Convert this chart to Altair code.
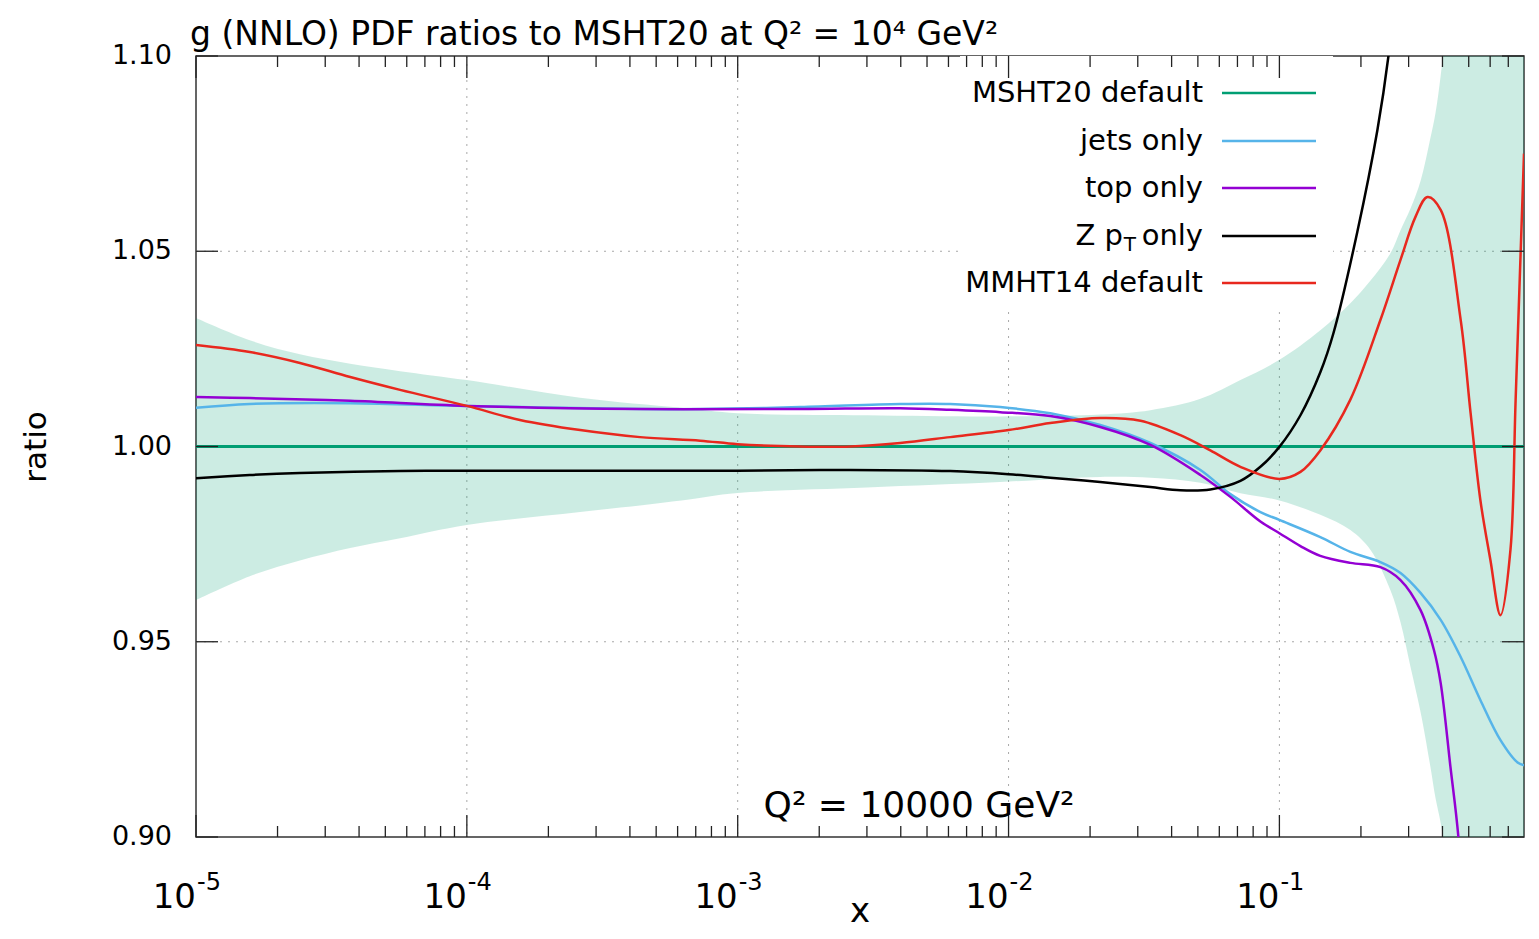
import altair as alt
import pandas as pd

# ---------------- data ----------------
band_x = [1e-5, 1.58e-5, 2.42e-5, 3.71e-5, 5.67e-5, 1e-4, 2.62e-4, 6.2e-4, 1e-3, 3e-3,
          9.3e-3, 0.0218, 0.0334, 0.0511, 0.0718, 0.1, 0.1416, 0.1828, 0.217, 0.257,
          0.280, 0.305, 0.332, 0.361, 0.377, 0.394, 0.41, 0.44, 0.8]
band_hi = [1.0329, 1.0272, 1.0236, 1.0212, 1.0193, 1.017, 1.0125, 1.0099, 1.0085, 1.008,
           1.0077, 1.0082, 1.0093, 1.0122, 1.017, 1.0222, 1.0298, 1.0367, 1.0425, 1.0495,
           1.0554, 1.061, 1.068, 1.079, 1.0854, 1.095, 1.106, 1.13, 1.13]
band_lo = [0.9607, 0.9668, 0.9708, 0.9740, 0.9765, 0.9799, 0.9832, 0.9862, 0.9881, 0.9895,
           0.9909, 0.9922, 0.9920, 0.9907, 0.9880, 0.9862, 0.9825, 0.9786, 0.9735, 0.9632,
           0.9550, 0.9435, 0.932, 0.918, 0.910, 0.9036, 0.895, 0.87, 0.87]

msht_x = [1e-5, 0.8]
msht_y = [1.0, 1.0]

jets_x = [1e-5, 1.58e-5, 3.71e-5, 1e-4, 4.36e-4, 7.27e-4, 1.7e-3, 3.98e-3, 6.09e-3, 9.32e-3,
          0.01426, 0.0218, 0.0334, 0.0511, 0.0659, 0.0851, 0.1, 0.1416, 0.1828, 0.236,
          0.280, 0.332, 0.394, 0.467, 0.552, 0.655, 0.76, 0.8]
jets_y = [1.0099, 1.0109, 1.0111, 1.0104, 1.0096, 1.0096, 1.0101, 1.0109, 1.0109, 1.0101,
          1.0085, 1.0055, 1.0009, 0.9940, 0.9878, 0.9832, 0.9812, 0.9768, 0.9730, 0.9704,
          0.9676, 0.9625, 0.9556, 0.9461, 0.9351, 0.9248, 0.9190, 0.9184]

top_x = [1e-5, 1.58e-5, 3.71e-5, 1e-4, 4.36e-4, 1.7e-3, 3.98e-3, 6.09e-3, 9.32e-3, 0.01426,
         0.0218, 0.0334, 0.0511, 0.0659, 0.0851, 0.1, 0.1196, 0.1416, 0.1828, 0.236,
         0.280, 0.332, 0.372, 0.394, 0.428, 0.458, 0.50]
top_y = [1.0127, 1.0124, 1.0117, 1.0104, 1.0096, 1.0096, 1.0098, 1.0094, 1.0088, 1.0078,
         1.0050, 1.0004, 0.9927, 0.9871, 0.9808, 0.9778, 0.9745, 0.9720, 0.9702, 0.9691,
         0.9658, 0.9581, 0.9479, 0.9394, 0.9180, 0.9000, 0.86]

zpt_x = [1e-5, 1.58e-5, 2.42e-5, 5.67e-5, 1e-4, 1e-3, 2.6e-3, 6.09e-3, 1e-2, 0.01426,
         0.0218, 0.0334, 0.0431, 0.0556, 0.0718, 0.0851, 0.1, 0.1196, 0.1416, 0.1583,
         0.194, 0.230, 0.2527, 0.28]
zpt_y = [0.9919, 0.9927, 0.9932, 0.9937, 0.9938, 0.9938, 0.9940, 0.9937, 0.9929, 0.9920,
         0.9909, 0.9896, 0.9888, 0.9890, 0.9912, 0.9948, 0.9999, 1.0080, 1.0190, 1.0290,
         1.0550, 1.0810, 1.1000, 1.13]

mmht_x = [1e-5, 1.58e-5, 2.42e-5, 3.71e-5, 5.67e-5, 1e-4, 1.57e-4, 2.62e-4, 4.36e-4, 7.27e-4,
          1e-3, 1.7e-3, 2.6e-3, 3.98e-3, 6.09e-3, 1e-2, 0.01426, 0.0218, 0.0307, 0.0431,
          0.0556, 0.0718, 0.1, 0.1196, 0.1416, 0.1828, 0.236, 0.280, 0.318, 0.352,
          0.394, 0.467, 0.508, 0.552, 0.601, 0.655, 0.713, 0.745, 0.8]
mmht_y = [1.0260, 1.0242, 1.0214, 1.0178, 1.0145, 1.0104, 1.0068, 1.0042, 1.0024, 1.0015,
          1.0006, 1.0000, 1.0000, 1.0009, 1.0024, 1.0042, 1.0060, 1.0073, 1.0066, 1.0029,
          0.9990, 0.9948, 0.9917, 0.9935, 0.9990, 1.0120, 1.0324, 1.0478, 1.0588, 1.0639,
          1.0606, 1.0324, 1.0086, 0.9863, 0.9710, 0.9568, 0.9735, 1.0119, 1.075]

series_names = ["MSHT20 default", "jets only", "top only", "Z pT only", "MMHT14 default"]
series_colors = ["#009e73", "#56b4e9", "#9400d3", "#000000", "#e8281e"]
series_data = [(msht_x, msht_y), (jets_x, jets_y), (top_x, top_y), (zpt_x, zpt_y), (mmht_x, mmht_y)]

major_x = [1e-5, 1e-4, 1e-3, 1e-2, 1e-1]
major_sup = ["-5", "-4", "-3", "-2", "-1"]
minor_x = [m * d for d in [1e-5, 1e-4, 1e-3, 1e-2, 1e-1] for m in range(2, 10) if m * d < 0.79]
y_ticks = [0.90, 0.95, 1.00, 1.05, 1.10]
y_labels = ["0.90", "0.95", "1.00", "1.05", "1.10"]

# ---------------- layout ----------------
W, H = 1328, 781
FONT = "DejaVu Sans"
xscale = alt.Scale(type="log", domain=[1e-5, 0.8])
yscale = alt.Scale(domain=[0.9, 1.1])


def X(field="x"):
    return alt.X(f"{field}:Q", scale=xscale, axis=None)


def Y(field="y"):
    return alt.Y(f"{field}:Q", scale=yscale, axis=None)


layers = []

# grid
gx = pd.DataFrame({"x": major_x[1:]})
gy = pd.DataFrame({"y": [0.95, 1.00, 1.05]})
grid_style = dict(color="#a8a8a8", strokeWidth=1, strokeDash=[2, 6])
layers.append(alt.Chart(gx).mark_rule(**grid_style).encode(x=X(), y=alt.value(0), y2=alt.value(H)))
layers.append(alt.Chart(gy).mark_rule(**grid_style).encode(y=Y(), x=alt.value(0), x2=alt.value(W)))

# legend background box
layers.append(alt.Chart(pd.DataFrame({"a": [0]})).mark_rect(color="white").encode(
    x=alt.value(764), x2=alt.value(1137), y=alt.value(0), y2=alt.value(252)))

# uncertainty band
band = pd.DataFrame({"x": band_x, "lo": band_lo, "hi": band_hi})
layers.append(alt.Chart(band).mark_area(color="#009e73", opacity=0.2, clip=True,
                                        interpolate="catmull-rom").encode(
    x=X(), y=Y("lo"), y2="hi:Q"))

# curves
for name, col, (xs, ys) in zip(series_names, series_colors, series_data):
    df = pd.DataFrame({"x": xs, "y": ys})
    sw = 3 if name == "MSHT20 default" else 2.5
    layers.append(alt.Chart(df).mark_line(color=col, strokeWidth=sw, clip=True,
                                          interpolate="catmull-rom").encode(x=X(), y=Y()))

# ticks (inward, mirrored)
dmaj = pd.DataFrame({"x": major_x})
dmin = pd.DataFrame({"x": minor_x})
dyt = pd.DataFrame({"y": y_ticks})
tk = dict(color="#222", strokeWidth=1.3)
layers.append(alt.Chart(dmaj).mark_rule(**tk).encode(x=X(), y=alt.value(0), y2=alt.value(22)))
layers.append(alt.Chart(dmaj).mark_rule(**tk).encode(x=X(), y=alt.value(H - 22), y2=alt.value(H)))
layers.append(alt.Chart(dmin).mark_rule(**tk).encode(x=X(), y=alt.value(0), y2=alt.value(11)))
layers.append(alt.Chart(dmin).mark_rule(**tk).encode(x=X(), y=alt.value(H - 11), y2=alt.value(H)))
layers.append(alt.Chart(dyt).mark_rule(**tk).encode(y=Y(), x=alt.value(0), x2=alt.value(22)))
layers.append(alt.Chart(dyt).mark_rule(**tk).encode(y=Y(), x=alt.value(W - 22), x2=alt.value(W)))

# x tick labels 10^n
dlab = pd.DataFrame({"x": major_x, "sup": major_sup})
layers.append(alt.Chart(dlab).mark_text(text="10", font=FONT, fontSize=34, align="right",
                                        baseline="alphabetic", color="black").encode(
    x=X(), y=alt.value(H + 71)))
layers.append(alt.Chart(dlab).mark_text(font=FONT, fontSize=24, align="left",
                                        baseline="alphabetic", dx=1, color="black").encode(
    x=X(), y=alt.value(H + 53), text="sup:N"))

# y tick labels
dyl = pd.DataFrame({"y": y_ticks, "lab": y_labels})
layers.append(alt.Chart(dyl).mark_text(font=FONT, fontSize=27, align="right", baseline="middle",
                                       color="black").encode(
    y=Y(), x=alt.value(-24), text="lab:N"))

one = pd.DataFrame({"a": [0]})


def txt(s, x, y, size, align="left", baseline="alphabetic", angle=0):
    kw = dict(text=s, font=FONT, fontSize=size, align=align, baseline=baseline, color="black")
    if angle:
        kw["angle"] = angle
    return alt.Chart(one).mark_text(**kw).encode(x=alt.value(x), y=alt.value(y))


# axis titles and annotations
layers.append(txt("ratio", -159, 391, 31, align="center", baseline="middle", angle=270))
layers.append(txt("x", 664, 866, 34, align="center"))
layers.append(txt("g (NNLO) PDF ratios to MSHT20 at Q² = 10⁴ GeV²", -6, -11, 33))
layers.append(txt("Q² = 10000 GeV²", 723, 761, 36, align="center"))

# legend
rows = [37, 85, 132, 180, 227]
for name, col, ry in zip(series_names, series_colors, rows):
    if name == "Z pT only":
        layers.append(txt("only", 1007, ry, 29, align="right", baseline="middle"))
        layers.append(txt("T", 940, ry + 9, 20, align="right", baseline="middle"))
        layers.append(txt("Z p", 927, ry, 29, align="right", baseline="middle"))
    else:
        layers.append(txt(name, 1007, ry, 29, align="right", baseline="middle"))
    layers.append(alt.Chart(one).mark_rule(color=col, strokeWidth=2.5).encode(
        x=alt.value(1026), x2=alt.value(1120), y=alt.value(ry)))

chart = alt.layer(*layers).properties(
    width=W, height=H,
    autosize=alt.AutoSizeParams(type="none"),
    padding={"left": 188, "top": 48, "right": 7, "bottom": 94},
    background="white",
).configure_view(stroke="#333", strokeWidth=1.5)

chart.save("out.html", embed_options={"renderer": "svg", "actions": False})
